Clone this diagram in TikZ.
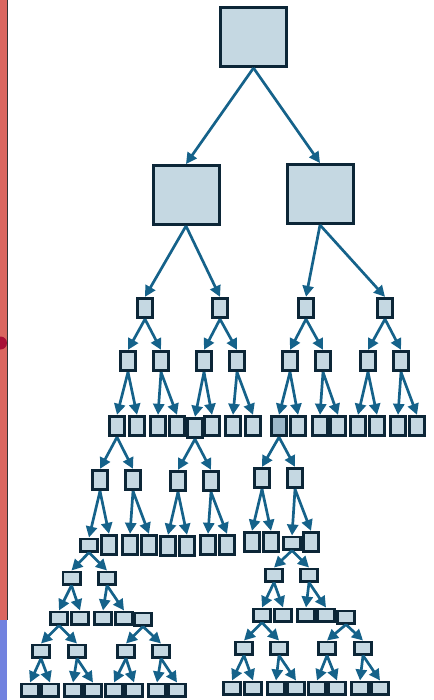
\documentclass[tikz,border=0pt]{standalone}
\usepackage{tikz}
\usetikzlibrary{positioning,arrows.meta}

\definecolor{boxfill}{HTML}{C5D8E2}
\definecolor{boxdark}{HTML}{9CB8CA}
\definecolor{boxline}{HTML}{0C2637}
\definecolor{arrowc}{HTML}{15628A}
\definecolor{stripred}{HTML}{DA665F}
\definecolor{stripblue}{HTML}{7282DF}
\definecolor{dotred}{HTML}{A80F35}

\tikzset{
	big/.style={rectangle, draw=boxline, fill=boxfill, line width=3pt, minimum width=66pt, minimum height=59pt, inner sep=0pt},
	sq/.style={rectangle, draw=boxline, fill=boxfill, line width=2.8pt, minimum width=15.5pt, minimum height=19.5pt, inner sep=0pt},
	flat/.style={rectangle, draw=boxline, fill=boxfill, line width=2.7pt, minimum width=17.3pt, minimum height=12.3pt, inner sep=0pt},
	arr/.style={draw=arrowc, line width=2.7pt, -{Triangle[length=11pt, width=11pt]}},
}

\begin{document}
\begin{tikzpicture}[x=1pt, y=-1pt]
		\useasboundingbox (0,0) rectangle (433,700);
		% strip at the left edge
		\fill[stripred] (0,0) rectangle (7,620);
		\fill[stripblue] (0,620) rectangle (7,700);
		\draw[gray!40!black, line width=1.2pt] (7.6,0) -- (7.6,620);
		\fill[dotred] (0.5,343) circle (6.5pt);
		% levels 0 to 3
		\node[big] (root) at (253.5,37) {};
		\node[big] (l1a) at (186,195) {};
		\node[big] (l1b) at (320,194) {};
		\node[sq] (l2a) at (145,308) {};
		\node[sq] (l2b) at (220,308) {};
		\node[sq] (l2c) at (306,308) {};
		\node[sq] (l2d) at (385,308) {};
		\node[sq] (l3a) at (128,361) {};
		\node[sq] (l3b) at (161,361) {};
		\node[sq] (l3c) at (204,361) {};
		\node[sq] (l3d) at (237,361) {};
		\node[sq] (l3e) at (290,361) {};
		\node[sq] (l3f) at (323,361) {};
		\node[sq] (l3g) at (368,361) {};
		\node[sq] (l3h) at (401,361) {};
		% level 4
		\node[sq] (l4a) at (117,426) {};
		\node[sq] (l4b) at (137,426) {};
		\node[sq] (l4c) at (158,426) {};
		\node[sq] (l4d) at (177,426) {};
		\node[sq] (l4f) at (212,426) {};
		\node[sq] (l4e) at (195,428) {};
		\node[sq] (l4g) at (233,426) {};
		\node[sq] (l4h) at (253,426) {};
		\node[sq, fill=boxdark] (l4i) at (279,426) {};
		\node[sq] (l4j) at (298,426) {};
		\node[sq] (l4k) at (320,426) {};
		\node[sq] (l4l) at (338,426) {};
		\node[sq] (l4m) at (358,426) {};
		\node[sq] (l4n) at (377,426) {};
		\node[sq] (l4o) at (398,426) {};
		\node[sq] (l4p) at (417,426) {};
		% levels 5 and 6
		\node[sq] (l5a) at (100,480) {};
		\node[sq] (l5b) at (133,480) {};
		\node[sq] (l5c) at (178,481) {};
		\node[sq] (l5d) at (211,481) {};
		\node[sq] (l5e) at (262,478) {};
		\node[sq] (l5f) at (295,478) {};
		\node[flat] (l6a) at (89,545) {};
		\node[sq] (l6b) at (109,545) {};
		\node[sq] (l6c) at (130,545) {};
		\node[sq] (l6d) at (149,545) {};
		\node[sq] (l6e) at (168,546) {};
		\node[sq] (l6f) at (187,546) {};
		\node[sq] (l6g) at (208,545) {};
		\node[sq] (l6h) at (227,545) {};
		\node[sq] (l6i) at (252,542) {};
		\node[sq] (l6j) at (271,542) {};
		\node[flat] (l6k) at (292,543) {};
		\node[sq] (l6l) at (311,542) {};
		% levels 7 to 10
		\node[flat] (l7a) at (71.5,578) {};
		\node[flat] (l7b) at (107,578) {};
		\node[flat] (l7c) at (274,575) {};
		\node[flat] (l7d) at (309,575) {};
		\node[flat] (l8a) at (59,618) {};
		\node[flat] (l8b) at (80,618) {};
		\node[flat] (l8c) at (103,618) {};
		\node[flat] (l8d) at (124,618) {};
		\node[flat] (l8e) at (143,619) {};
		\node[flat] (l8f) at (262,615) {};
		\node[flat] (l8g) at (283,615) {};
		\node[flat] (l8h) at (306,615) {};
		\node[flat] (l8i) at (326,615) {};
		\node[flat] (l8j) at (346,617) {};
		\node[flat] (l9a) at (41,651) {};
		\node[flat] (l9b) at (77,651) {};
		\node[flat] (l9c) at (126,651) {};
		\node[flat] (l9d) at (161,651) {};
		\node[flat] (l9e) at (244,648) {};
		\node[flat] (l9f) at (279,648) {};
		\node[flat] (l9g) at (327,648) {};
		\node[flat] (l9h) at (363,648) {};
		\node[flat] (l10a) at (30,690) {};
		\node[flat] (l10b) at (50,690) {};
		\node[flat] (l10c) at (73,690) {};
		\node[flat] (l10d) at (93,690) {};
		\node[flat] (l10e) at (114,690) {};
		\node[flat] (l10f) at (134,690) {};
		\node[flat] (l10g) at (157,690) {};
		\node[flat] (l10h) at (177,690) {};
		\node[flat] (l10i) at (232,688) {};
		\node[flat] (l10j) at (253,688) {};
		\node[flat] (l10k) at (276,688) {};
		\node[flat] (l10l) at (296,688) {};
		\node[flat] (l10m) at (317,688) {};
		\node[flat] (l10n) at (337,688) {};
		\node[flat] (l10o) at (360,688) {};
		\node[flat] (l10p) at (380,688) {};
		% arrows
		\draw[arr] (root.south) -- (l1a.north);
		\draw[arr] (root.south) -- (l1b.north);
		\draw[arr] (l1a.south) -- (l2a.north);
		\draw[arr] (l1a.south) -- (l2b.north);
		\draw[arr] (l1b.south) -- (l2c.north);
		\draw[arr] (l1b.south) -- (l2d.north);
		\draw[arr] (l2a.south) -- (l3a.north);
		\draw[arr] (l2a.south) -- (l3b.north);
		\draw[arr] (l2b.south) -- (l3c.north);
		\draw[arr] (l2b.south) -- (l3d.north);
		\draw[arr] (l2c.south) -- (l3e.north);
		\draw[arr] (l2c.south) -- (l3f.north);
		\draw[arr] (l2d.south) -- (l3g.north);
		\draw[arr] (l2d.south) -- (l3h.north);
		\draw[arr] (l3a.south) -- (l4a.north);
		\draw[arr] (l3a.south) -- (l4b.north);
		\draw[arr] (l3b.south) -- (l4c.north);
		\draw[arr] (l3b.south) -- (l4d.north);
		\draw[arr] (l3c.south) -- (l4e.north);
		\draw[arr] (l3c.south) -- (l4f.north);
		\draw[arr] (l3d.south) -- (l4g.north);
		\draw[arr] (l3d.south) -- (l4h.north);
		\draw[arr] (l3e.south) -- (l4i.north);
		\draw[arr] (l3e.south) -- (l4j.north);
		\draw[arr] (l3f.south) -- (l4k.north);
		\draw[arr] (l3f.south) -- (l4l.north);
		\draw[arr] (l3g.south) -- (l4m.north);
		\draw[arr] (l3g.south) -- (l4n.north);
		\draw[arr] (l3h.south) -- (l4o.north);
		\draw[arr] (l3h.south) -- (l4p.north);
		\draw[arr] (l4a.south) -- (l5a.north);
		\draw[arr] (l4a.south) -- (l5b.north);
		\draw[arr] (l4e.south) -- (l5c.north);
		\draw[arr] (l4e.south) -- (l5d.north);
		\draw[arr] (l4i.south) -- (l5e.north);
		\draw[arr] (l4i.south) -- (l5f.north);
		\draw[arr] (l5a.south) -- (l6a.north);
		\draw[arr] (l5a.south) -- (l6b.north);
		\draw[arr] (l5b.south) -- (l6c.north);
		\draw[arr] (l5b.south) -- (l6d.north);
		\draw[arr] (l5c.south) -- (l6e.north);
		\draw[arr] (l5c.south) -- (l6f.north);
		\draw[arr] (l5d.south) -- (l6g.north);
		\draw[arr] (l5d.south) -- (l6h.north);
		\draw[arr] (l5e.south) -- (l6i.north);
		\draw[arr] (l5e.south) -- (l6j.north);
		\draw[arr] (l5f.south) -- (l6k.north);
		\draw[arr] (l5f.south) -- (l6l.north);
		\draw[arr] (l6a.south) -- (l7a.north);
		\draw[arr] (l6a.south) -- (l7b.north);
		\draw[arr] (l6k.south) -- (l7c.north);
		\draw[arr] (l6k.south) -- (l7d.north);
		\draw[arr] (l7a.south) -- (l8a.north);
		\draw[arr] (l7a.south) -- (l8b.north);
		\draw[arr] (l7b.south) -- (l8c.north);
		\draw[arr] (l7b.south) -- (l8d.north);
		\draw[arr] (l7c.south) -- (l8f.north);
		\draw[arr] (l7c.south) -- (l8g.north);
		\draw[arr] (l7d.south) -- (l8h.north);
		\draw[arr] (l7d.south) -- (l8i.north);
		\draw[arr] (l8a.south) -- (l9a.north);
		\draw[arr] (l8a.south) -- (l9b.north);
		\draw[arr] (l8e.south) -- (l9c.north);
		\draw[arr] (l8e.south) -- (l9d.north);
		\draw[arr] (l8f.south) -- (l9e.north);
		\draw[arr] (l8f.south) -- (l9f.north);
		\draw[arr] (l8j.south) -- (l9g.north);
		\draw[arr] (l8j.south) -- (l9h.north);
		\draw[arr] (l9a.south) -- (l10a.north);
		\draw[arr] (l9a.south) -- (l10b.north);
		\draw[arr] (l9b.south) -- (l10c.north);
		\draw[arr] (l9b.south) -- (l10d.north);
		\draw[arr] (l9c.south) -- (l10e.north);
		\draw[arr] (l9c.south) -- (l10f.north);
		\draw[arr] (l9d.south) -- (l10g.north);
		\draw[arr] (l9d.south) -- (l10h.north);
		\draw[arr] (l9e.south) -- (l10i.north);
		\draw[arr] (l9e.south) -- (l10j.north);
		\draw[arr] (l9f.south) -- (l10k.north);
		\draw[arr] (l9f.south) -- (l10l.north);
		\draw[arr] (l9g.south) -- (l10m.north);
		\draw[arr] (l9g.south) -- (l10n.north);
		\draw[arr] (l9h.south) -- (l10o.north);
		\draw[arr] (l9h.south) -- (l10p.north);
\end{tikzpicture}
\end{document}
